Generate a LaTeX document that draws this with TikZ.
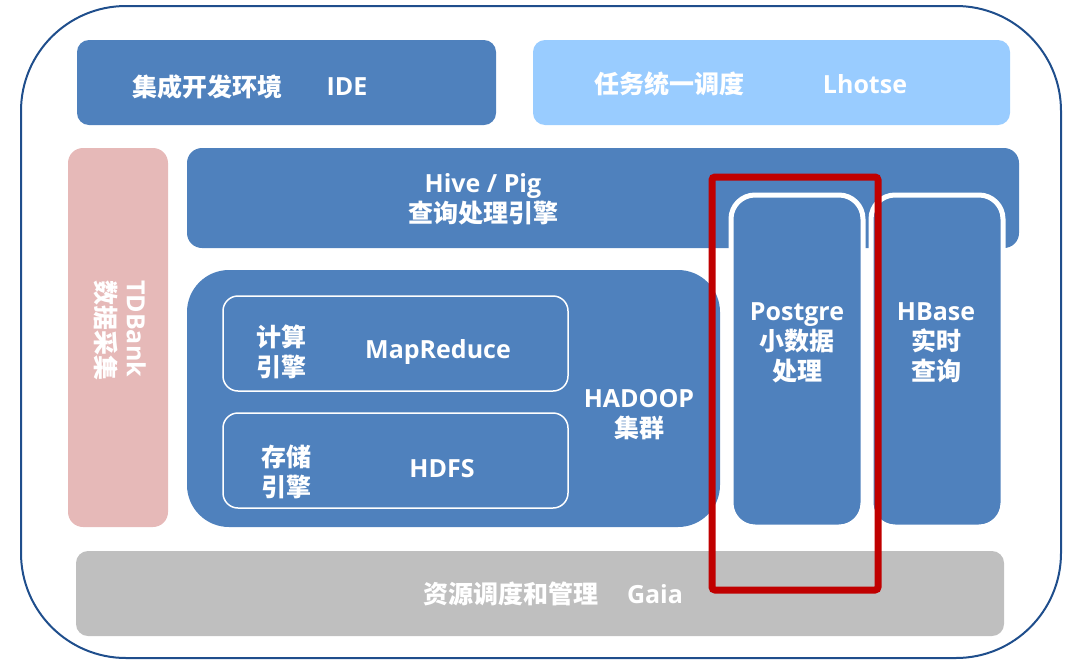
\documentclass[tikz,border=0pt]{standalone}
\usepackage{fontspec}
\setmainfont{Open Sans}
\newfontfamily\cjk{Noto Sans CJK SC}
\definecolor{mblue}{HTML}{4F81BD}
\definecolor{lblue}{HTML}{99CCFF}
\definecolor{pink}{HTML}{E6B9B8}
\definecolor{mgray}{HTML}{BFBFBF}
\definecolor{dred}{HTML}{C00000}
\definecolor{border}{HTML}{1F4E8C}
\tikzset{
  box/.style={anchor=north west, inner sep=0pt, outer sep=0pt, rounded corners=#1},
  box/.default=12pt,
  txt/.style={text=white, inner sep=0pt, align=center, font=\fontsize{25}{30}\selectfont\bfseries},
  inbox/.style={box=15pt, draw=white, line width=1.5pt},
  colbox/.style={box=24pt, fill=mblue, draw=white, line width=5pt},
}
\begin{document}
\begin{tikzpicture}[x=1pt,y=-1pt]
\useasboundingbox (0,0) rectangle (1076,659);
% outer frame
\node[box=105pt, draw=border, line width=2pt, minimum width=1040pt, minimum height=652pt] (frame) at (21,6) {};
% top row
\node[box, fill=mblue, minimum width=419pt, minimum height=85pt] (ide) at (77,40) {};
\node[box, fill=lblue, minimum width=477pt, minimum height=85pt] (lhotse) at (533,40) {};
\node[txt] (idel) at (207,87) {\cjk 集成开发环境};
\node[txt] (idet) at (347,87) {IDE};
\node[txt] (lhl) at (669,84) {\cjk 任务统一调度};
\node[txt] (lht) at (865,84) {Lhotse};
% TDBank
\node[box=15pt, fill=pink, minimum width=100pt, minimum height=379pt] (tdbank) at (68,148) {};
\node[txt, rotate=-90, anchor=west, align=left] (tdl) at (120,280) {TDBank\\{\cjk 数据采集}};
% Hive / Pig
\node[box=15pt, fill=mblue, minimum width=832pt, minimum height=100pt] (hive) at (187,148) {};
\node[txt] (hivel) at (483,199) {Hive / Pig\\{\cjk 查询处理引擎}};
% HADOOP
\node[box=42pt, fill=mblue, minimum width=533pt, minimum height=257pt] (hadoop) at (187,270) {};
\node[inbox, minimum width=345pt, minimum height=95pt] (mr) at (223,296) {};
\node[inbox, minimum width=345pt, minimum height=95pt] (hdfs) at (223,413) {};
\node[txt] (mrl) at (281,352) {{\cjk 计算}\\{\cjk 引擎}};
\node[txt] (mrt) at (438,352) {MapReduce};
\node[txt] (hdfsl) at (286,472) {{\cjk 存储}\\{\cjk 引擎}};
\node[txt] (hdfst) at (442,469) {HDFS};
\node[txt] (hadl) at (639,415) {HADOOP\\{\cjk 集群}};
% Postgre / HBase
\node[colbox, minimum width=132pt, minimum height=332pt] (pg) at (731,195) {};
\node[colbox, minimum width=132pt, minimum height=332pt] (hb) at (871,195) {};
\node[txt] (pgl) at (797,343) {Postgre\\{\cjk 小数据}\\{\cjk 处理}};
\node[txt] (hbl) at (936,343) {HBase\\{\cjk 实时}\\{\cjk 查询}};
% Gaia
\node[box, fill=mgray, minimum width=928pt, minimum height=85pt] (gaia) at (76,551) {};
\node[txt] (gaial) at (511,594) {\cjk 资源调度和管理};
\node[txt] (gaiat) at (655,594) {Gaia};
% highlight
\node[box=3pt, draw=dred, line width=7pt, minimum width=166pt, minimum height=413pt] (hl) at (712,177) {};
\end{tikzpicture}
\end{document}
